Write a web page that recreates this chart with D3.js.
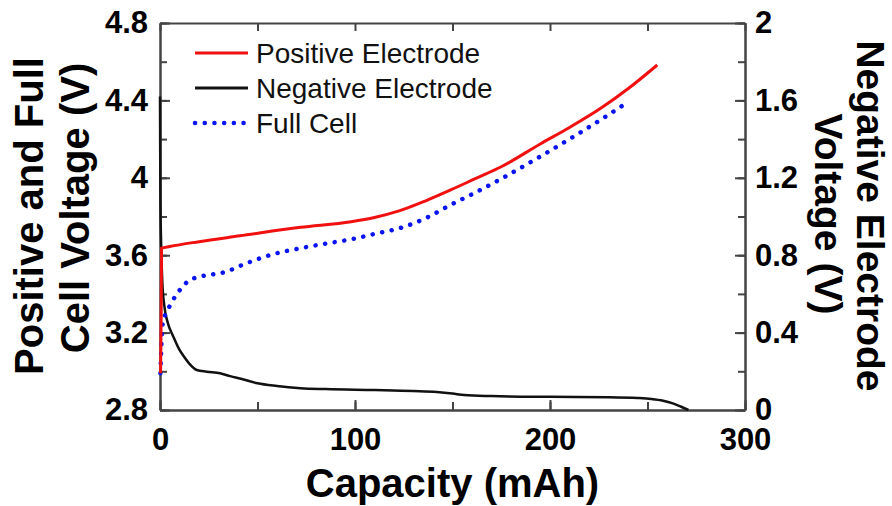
<!DOCTYPE html>
<html>
<head>
<meta charset="utf-8">
<script src="https://cdn.jsdelivr.net/npm/d3@7"></script>
<style>
  body { margin: 0; background: #fff; }
  text { font-family: Arial, "Liberation Sans", sans-serif; }
</style>
</head>
<body>
<div id="chart"></div>
<script>
// [capacity (mAh), voltage (V)]
const positiveElectrode = [
  [0.3, 2.99], [0.6, 3.3], [0.8, 3.636], [5, 3.645], [20, 3.67], [41, 3.70], [72, 3.744],
  [98, 3.773], [110, 3.795], [123, 3.83], [136, 3.88], [149, 3.937], [162, 3.997],
  [175, 4.057], [195, 4.175], [210, 4.26], [226, 4.359], [240, 4.46], [255, 4.583]
];
const negativeElectrode = [
  [0, 1.62], [0.2, 1.1], [0.6, 0.85], [1.2, 0.66], [2.2, 0.54], [4, 0.45], [6.8, 0.38],
  [9.5, 0.32], [12, 0.28], [15, 0.24], [18.8, 0.207], [24, 0.198], [30.8, 0.19],
  [36, 0.175], [42, 0.16], [50, 0.138], [60, 0.124], [72, 0.113], [85, 0.108],
  [110, 0.103], [130, 0.098], [142, 0.093], [150, 0.085], [156, 0.077], [170, 0.072],
  [200, 0.068], [230, 0.066], [245, 0.062], [252, 0.057], [258, 0.048], [263, 0.034],
  [267, 0.018], [271, 0]
];
const fullCell = [
  [0.2, 2.99], [0.6, 3.1], [1, 3.2], [1.8, 3.27], [3.2, 3.3], [5.1, 3.34], [8, 3.39],
  [11, 3.43], [14.6, 3.467], [20.5, 3.489], [34, 3.515], [43, 3.553], [58, 3.605],
  [72, 3.636], [85, 3.66], [98, 3.682], [110, 3.71], [123, 3.74], [136, 3.79],
  [149, 3.86], [162, 3.925], [175, 3.995], [195, 4.11], [210, 4.2], [226, 4.3], [239, 4.385]
];

const xTicks = [0, 100, 200, 300];
const leftTicks = [2.8, 3.2, 3.6, 4, 4.4, 4.8];
const rightTicks = [0, 0.4, 0.8, 1.2, 1.6, 2];
const legendLabels = ["Positive Electrode", "Negative Electrode", "Full Cell"];

const W = 892, H = 506;
const margin = { top: 23, right: 147, bottom: 96, left: 160 };
const width = W - margin.left - margin.right;
const height = H - margin.top - margin.bottom;

const svg = d3.select("#chart")
  .append("svg")
  .attr("width", W)
  .attr("height", H);

const g = svg.append("g")
  .attr("transform", "translate(" + margin.left + "," + margin.top + ")");

// Scales
const x = d3.scaleLinear().domain([0, 300]).range([0, width]);
const yLeft = d3.scaleLinear().domain([2.8, 4.8]).range([height, 0]);
const yRight = d3.scaleLinear().domain([0, 2]).range([height, 0]);

const axisColor = "#444";
const fmt = d => d3.format("")(+d.toFixed(1));

// Minor ticks (no labels)
const xMinor = d3.range(0, 301, 50);
const leftMinor = d3.range(2.8, 4.81, 0.2);
const rightMinor = d3.range(0, 2.01, 0.2);

g.append("g").attr("class", "minor")
  .attr("transform", "translate(0," + height + ")")
  .call(d3.axisBottom(x).tickValues(xMinor).tickSize(-8).tickSizeOuter(0).tickFormat(""));
g.append("g").attr("class", "minor")
  .call(d3.axisTop(x).tickValues(xMinor).tickSize(-8).tickSizeOuter(0).tickFormat(""));
g.append("g").attr("class", "minor")
  .call(d3.axisLeft(yLeft).tickValues(leftMinor).tickSize(-7).tickSizeOuter(0).tickFormat(""));
g.append("g").attr("class", "minor")
  .attr("transform", "translate(" + width + ",0)")
  .call(d3.axisRight(yRight).tickValues(rightMinor).tickSize(-7).tickSizeOuter(0).tickFormat(""));

// Major axes
g.append("g").attr("class", "axis")
  .attr("transform", "translate(0," + height + ")")
  .call(d3.axisBottom(x).tickValues(xTicks).tickSize(-10).tickSizeOuter(0).tickPadding(18).tickFormat(d3.format("d")));
g.append("g").attr("class", "axis")
  .call(d3.axisLeft(yLeft).tickValues(leftTicks).tickSize(-10).tickSizeOuter(0).tickPadding(12).tickFormat(fmt));
g.append("g").attr("class", "axis")
  .attr("transform", "translate(" + width + ",0)")
  .call(d3.axisRight(yRight).tickValues(rightTicks).tickSize(-10).tickSizeOuter(0).tickPadding(10).tickFormat(fmt));

g.selectAll(".axis path, .axis line, .minor path, .minor line")
  .attr("stroke", axisColor)
  .attr("stroke-width", 2);
g.selectAll(".axis text")
  .attr("fill", "#000")
  .style("font-size", "31px")
  .style("font-weight", "bold");

// Lines
const lineLeft = d3.line()
  .x(d => x(d[0]))
  .y(d => yLeft(d[1]))
  .curve(d3.curveMonotoneX);
const lineRight = d3.line()
  .x(d => x(d[0]))
  .y(d => yRight(d[1]))
  .curve(d3.curveMonotoneX);

g.append("path")
  .datum(negativeElectrode)
  .attr("fill", "none")
  .attr("stroke", "#111")
  .attr("stroke-width", 2.5)
  .attr("d", lineRight);

g.append("path")
  .datum(fullCell)
  .attr("fill", "none")
  .attr("stroke", "#0a14f0")
  .attr("stroke-width", 4.5)
  .attr("stroke-linecap", "round")
  .attr("stroke-dasharray", "0.1 9.6")
  .attr("d", lineLeft);

g.append("path")
  .datum(positiveElectrode)
  .attr("fill", "none")
  .attr("stroke", "#f01010")
  .attr("stroke-width", 3)
  .attr("d", lineLeft);

// Legend
const legendStyles = [
  { stroke: "#f01010", width: 3, dash: null, cap: "butt" },
  { stroke: "#111", width: 3, dash: null, cap: "butt" },
  { stroke: "#0a14f0", width: 4.5, dash: "0.1 9.6", cap: "round" }
];
const legend = svg.append("g")
  .selectAll("g")
  .data(legendLabels)
  .enter()
  .append("g")
  .attr("transform", (d, i) => "translate(195," + (53 + i * 35) + ")");
legend.append("line")
  .attr("x1", 0).attr("x2", 53)
  .attr("stroke", (d, i) => legendStyles[i].stroke)
  .attr("stroke-width", (d, i) => legendStyles[i].width)
  .attr("stroke-linecap", (d, i) => legendStyles[i].cap)
  .attr("stroke-dasharray", (d, i) => legendStyles[i].dash);
legend.append("text")
  .attr("x", 61)
  .attr("y", 10)
  .style("font-size", "28px")
  .attr("fill", "#111")
  .text(d => d);

// Axis titles
svg.append("text")
  .attr("x", margin.left + width / 2)
  .attr("y", 497)
  .attr("text-anchor", "middle")
  .style("font-size", "40px")
  .style("font-weight", "bold")
  .text("Capacity (mAh)");

const leftTitle = svg.append("text")
  .attr("transform", "rotate(-90)")
  .attr("text-anchor", "middle")
  .style("font-size", "40px")
  .style("font-weight", "bold");
leftTitle.append("tspan").attr("x", -216).attr("y", 43).text("Positive and Full");
leftTitle.append("tspan").attr("x", -208).attr("y", 89).text("Cell Voltage (V)");

const rightTitle = svg.append("text")
  .attr("transform", "rotate(90)")
  .attr("text-anchor", "middle")
  .style("font-size", "39px")
  .style("font-weight", "bold");
rightTitle.append("tspan").attr("x", 216).attr("y", -857).text("Negative Electrode");
rightTitle.append("tspan").attr("x", 214).attr("y", -815).text("Voltage (V)");
</script>
</body>
</html>
